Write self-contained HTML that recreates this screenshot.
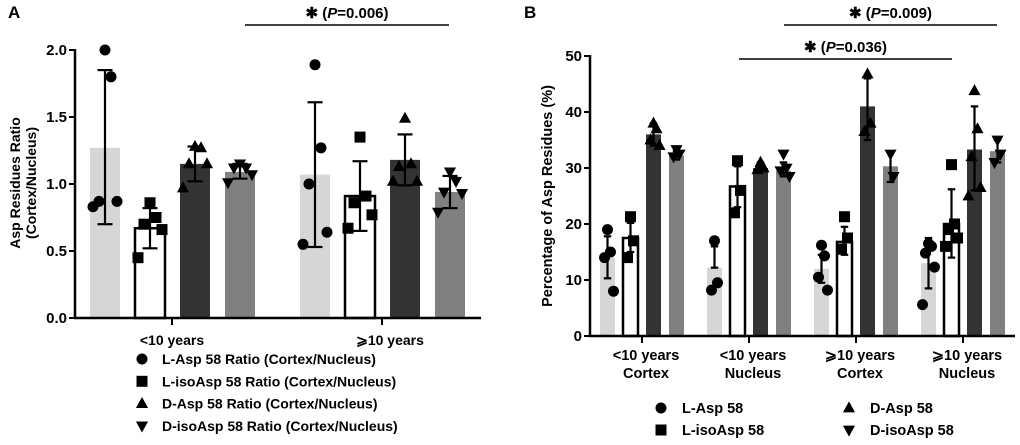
<!DOCTYPE html>
<html><head><meta charset="utf-8"><style>
body{margin:0;background:#fff;}
svg{display:block;font-family:"Liberation Sans",Arial,sans-serif;font-weight:bold;}
</style></head><body>
<svg id="c" width="1020" height="445" viewBox="0 0 1020 445"></svg>
<script>
// ---------- Panel A data ----------
const aGroups = ["<10 years", "\u2A7E10 years"];
const aSeries = ["L-Asp 58 Ratio (Cortex/Nucleus)","L-isoAsp 58 Ratio (Cortex/Nucleus)","D-Asp 58 Ratio (Cortex/Nucleus)","D-isoAsp 58 Ratio (Cortex/Nucleus)"];
const aMeans = [[1.27,0.67,1.15,1.09],[1.07,0.91,1.18,0.94]];
const aErrLo = [[0.70,0.52,1.02,1.04],[0.53,0.65,0.99,0.82]];
const aErrHi = [[1.85,0.82,1.28,1.15],[1.61,1.17,1.37,1.06]];
const aPoints = [
 [[2.0,1.80,0.87,0.87,0.83],[0.86,0.75,0.70,0.66,0.45],[1.28,1.27,1.15,1.15,0.97],[1.15,1.12,1.12,1.07,1.01]],
 [[1.89,1.27,1.00,0.64,0.55],[1.35,0.91,0.86,0.77,0.67],[1.49,1.15,1.13,1.02,1.02],[1.09,1.02,0.94,0.93,0.79]]
];
const aTicks = [0,0.5,1.0,1.5,2.0];
const aTickLabels = ["0.0","0.5","1.0","1.5","2.0"];
// ---------- Panel B data ----------
const bGroups = [["<10 years","Cortex"],["<10 years","Nucleus"],["\u2A7E10 years","Cortex"],["\u2A7E10 years","Nucleus"]];
const bSeries = ["L-Asp 58","L-isoAsp 58","D-Asp 58","D-isoAsp 58"];
const bMeans = [[14,17.5,36,32.2],[12.2,26.7,30,29.5],[12,16.8,41,30.3],[13,20,33.3,33]];
const bErrLo = [[10.3,15,34,31.5],[12.2,23,29.5,28.5],[9.5,14.5,35,27.5],[8.5,14,26,31]];
const bErrHi = [[17.8,20.2,38,33],[16,30.3,31,31],[14.5,19.5,46,33],[17.5,26.2,41,35]];
const bPoints = [
 [[19,15,14,8],[21.3,17,14],[38,37,35,34],[33.3,32.5,32]],
 [[17,9.5,8.2],[31.3,26,22],[31,30,29.7],[32.5,30,29.5,28.5]],
 [[16.2,14.3,10.5,8.2],[21.3,17.5,15.5],[46.8,38,36.5],[32.5,28.5]],
 [[16.5,16,14.8,12.3,5.6],[30.6,20,19,17.5,16],[43.8,37,32,26.5,25],[35,32.5,31]]
];
const bTicks = [0,10,20,30,40,50];

const NS="http://www.w3.org/2000/svg";
const svg=document.getElementById('c');
function mk(tag,attrs,parent){const e=document.createElementNS(NS,tag);for(const k in attrs)e.setAttribute(k,attrs[k]);(parent||svg).appendChild(e);return e;}
const fills=["#d6d6d6","#ffffff","#333333","#808080"];
function marker(type,x,y,s,parent){
  let e;
  if(type===0){e=mk('circle',{cx:x,cy:y,r:s},parent);}
  else if(type===1){e=mk('rect',{x:x-s,y:y-s,width:2*s,height:2*s},parent);}
  else if(type===2){e=mk('polygon',{points:`${x},${y-s*1.2} ${x-s*1.1},${y+s*0.8} ${x+s*1.1},${y+s*0.8}`},parent);}
  else {e=mk('polygon',{points:`${x},${y+s*1.2} ${x-s*1.1},${y-s*0.8} ${x+s*1.1},${y-s*0.8}`},parent);}
  e.setAttribute('fill','#000');
  return e;
}
function txt(s,x,y,size,anchor,parent){const t=mk('text',{x:x,y:y,'font-size':size,'text-anchor':anchor||'middle',fill:'#000'},parent);t.textContent=s;return t;}
function sig(x1,x2,y,label,name){
  const g=mk('g',{});
  
  
  mk('line',{x1:x1,x2:x2,y1:y,y2:y,stroke:'#000','stroke-width':1.5},g);
  const t=mk('text',{x:(x1+x2)/2,y:y-7,'font-size':15,'text-anchor':'middle',fill:'#000'},g);
  t.innerHTML='\u2731 (<tspan font-style="italic">P</tspan>='+label+')';
}
function panel(cfg){
  const {left,right,y0,y1,vmax,groupX,offs,bw,means,lo,hi,pts,ticks,tickLabels,ms,name}=cfg;
  const g=mk('g',{});
  
  
  const ys=v=>y0-(v/vmax)*(y0-y1);
  for(let gi=0;gi<means.length;gi++){
    for(let si=0;si<4;si++){
      const cx=groupX[gi]+offs[si];
      const bar=mk('rect',{x:cx-bw/2,y:ys(means[gi][si]),width:bw,height:y0-ys(means[gi][si]),fill:fills[si],stroke:si===1?'#000':'none','stroke-width':2.5},g);
      
      
      const eb=mk('g',{stroke:'#000','stroke-width':2.2},g);
      
      
      mk('line',{x1:cx,x2:cx,y1:ys(lo[gi][si]),y2:ys(hi[gi][si])},eb);
      mk('line',{x1:cx-bw*0.25,x2:cx+bw*0.25,y1:ys(lo[gi][si]),y2:ys(lo[gi][si])},eb);
      mk('line',{x1:cx-bw*0.25,x2:cx+bw*0.25,y1:ys(hi[gi][si]),y2:ys(hi[gi][si])},eb);
      const p=pts[gi][si];
      p.forEach((v,k)=>{
        const jit=(k%2===0?-1:1)*Math.ceil(k/2)*bw*0.2;
        const m=marker(si,cx+jit,ys(v),ms,g);
        
        
      });
    }
  }
  mk('line',{x1:left,x2:left,y1:y1-1,y2:y0+1,stroke:'#000','stroke-width':2.5},g);
  mk('line',{x1:left-1,x2:right,y1:y0,y2:y0,stroke:'#000','stroke-width':2.5},g);
  ticks.forEach((t,i)=>{
    mk('line',{x1:left-6,x2:left,y1:ys(t),y2:ys(t),stroke:'#000','stroke-width':2},g);
    const tl=txt(tickLabels[i],left-8,ys(t)+5,15,'end',g);
    
    
  });
  groupX.forEach(x=>mk('line',{x1:x,x2:x,y1:y0,y2:y0+7,stroke:'#000','stroke-width':2},g));
  return ys;
}
// Panel A
txt('A',8,18,17,'start');
panel({name:'panel-a-chart',left:75,right:481,y0:318,y1:50,vmax:2,groupX:[172,382],offs:[-67,-22,23,68],bw:30,
  means:aMeans,lo:aErrLo,hi:aErrHi,pts:aPoints,ticks:aTicks,tickLabels:aTickLabels,ms:5.5});
aGroups.forEach((g,i)=>{const t=txt(g,[172,390][i],345,14,'middle');});
{const t=mk('text',{transform:'translate(20,183) rotate(-90)','font-size':14,'text-anchor':'middle',fill:'#000'});
 
 t.innerHTML='<tspan x="0" dy="0">Asp Residues Ratio</tspan><tspan x="0" dy="16">(Cortex/Nucleus)</tspan>';}
aSeries.forEach((s,i)=>{
  const y=364+i*22.3;
  const g=mk('g',{});
  marker(i,142,y-5,5.5,g);txt(s,162,y,14,'start',g);
});
sig(245,449,25,'0.006','significance-a');
// Panel B
txt('B',524,18,17,'start');
panel({name:'panel-b-chart',left:590,right:1015,y0:336,y1:56,vmax:50,groupX:[642,749,856,963],offs:[-34.5,-11.5,11.5,34.5],bw:15,
  means:bMeans,lo:bErrLo,hi:bErrHi,pts:bPoints,ticks:bTicks,tickLabels:bTicks.map(String),ms:5.5});
bGroups.forEach((g,i)=>{const x=[642,749,856,963][i];
  const a=txt(g[0],x+4,360,14.5,'middle');
  const b=txt(g[1],x+4,378,14.5,'middle');});
{const t=mk('text',{transform:'translate(552,196) rotate(-90)','font-size':14.5,'text-anchor':'middle',fill:'#000'});
 
 t.textContent='Percentage of Asp Residues (%)';}
bSeries.forEach((s,i)=>{
  const col=i>=2?1:0,row=i%2;
  const mx=[661,849][col],tx=[682,870][col],y=413+row*22;
  const g=mk('g',{});
  marker(i,mx,y-5,5.5,g);txt(s,tx,y,14.5,'start',g);
});
sig(784,997,25,'0.009','significance-b-top');
sig(739,952,59,'0.036','significance-b-lower');
</script>
</body></html>
